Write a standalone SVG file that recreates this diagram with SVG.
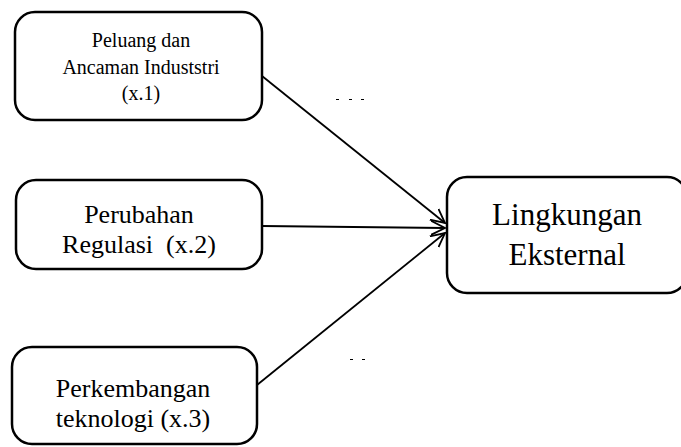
<svg xmlns="http://www.w3.org/2000/svg" width="681" height="447" viewBox="0 0 681 447">
<style>
.box{fill:#fff;stroke:#000;stroke-width:2.5}
.t{font-family:'Liberation Serif','Times New Roman',Times,serif;fill:#000;text-anchor:middle;white-space:pre}
.c{stroke:#000;stroke-width:1.8;fill:none}
.d{stroke:#000;stroke-width:1}
</style>
<defs>
<marker id="arr" markerWidth="16" markerHeight="16" refX="14" refY="8" orient="auto" markerUnits="userSpaceOnUse">
<polyline points="0,1 14,8 0,15" fill="none" stroke="#000" stroke-width="1.8"/>
</marker>
</defs>
<rect width="681" height="447" fill="#fff"/>
<g id="connectors">
<line class="c" x1="262" y1="76" x2="445" y2="223" marker-end="url(#arr)"/>
<line class="c" x1="262" y1="226" x2="445" y2="228" marker-end="url(#arr)"/>
<line class="c" x1="257" y1="385" x2="445" y2="233" marker-end="url(#arr)"/>
</g>
<g id="marks">
<line class="d" x1="336" y1="99.5" x2="339" y2="99.5"/>
<line class="d" x1="349" y1="99.5" x2="352" y2="99.5"/>
<line class="d" x1="361" y1="99.5" x2="364" y2="99.5"/>
<line class="d" x1="350" y1="359.5" x2="353" y2="359.5"/>
<line class="d" x1="362" y1="359.5" x2="365" y2="359.5"/>
</g>
<g id="x1">
<rect class="box" x="15" y="12" width="247" height="108" rx="20"/>
<text class="t" font-family="Liberation Serif, serif" x="141" y="47" font-size="20">Peluang dan</text>
<text class="t" font-family="Liberation Serif, serif" x="141" y="74" font-size="20">Ancaman Induststri</text>
<text class="t" font-family="Liberation Serif, serif" x="141" y="100" font-size="20">(x.1)</text>
</g>
<g id="x2">
<rect class="box" x="16" y="180" width="246" height="89" rx="20"/>
<text class="t" font-family="Liberation Serif, serif" x="139" y="223" font-size="26">Perubahan</text>
<text class="t" font-family="Liberation Serif, serif" x="139" y="253" font-size="26" xml:space="preserve">Regulasi  (x.2)</text>
</g>
<g id="x3">
<rect class="box" x="12" y="347" width="245" height="97" rx="20"/>
<text class="t" font-family="Liberation Serif, serif" x="133" y="397" font-size="26">Perkembangan</text>
<text class="t" font-family="Liberation Serif, serif" x="133" y="427" font-size="26">teknologi (x.3)</text>
</g>
<g id="y">
<rect class="box" x="447" y="177" width="240" height="116" rx="20"/>
<text class="t" font-family="Liberation Serif, serif" x="567" y="225" font-size="31">Lingkungan</text>
<text class="t" font-family="Liberation Serif, serif" x="567" y="265" font-size="31">Eksternal</text>
</g>
</svg>
